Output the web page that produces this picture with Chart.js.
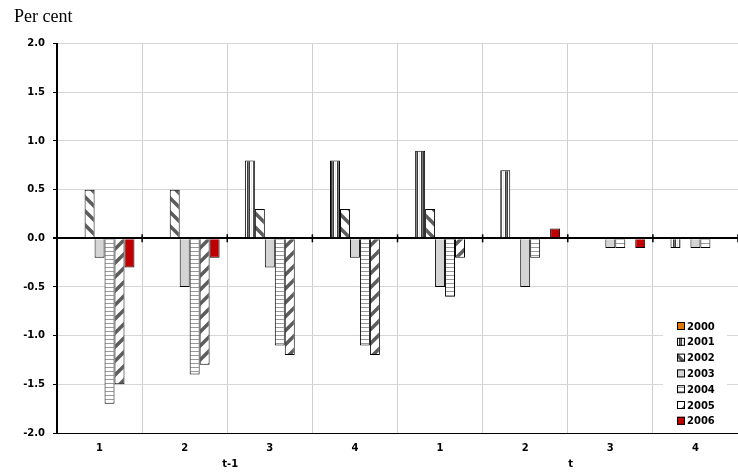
<!DOCTYPE html>
<html>
<head>
<meta charset="utf-8">
<script src="https://cdn.jsdelivr.net/npm/chart.js@4.4.1/dist/chart.umd.min.js"></script>
<style>
    body { margin: 0; background: #fff; }
    #wrap { width: 738px; height: 473px; position: relative; }
</style>
</head>
<body>
<div id="wrap"><canvas id="grafico"></canvas></div>
<script>
// DATA
const quarters = ['1', '2', '3', '4', '1', '2', '3', '4'];
const periods = ['t-1', 't'];
const yTicks = [-2.0, -1.5, -1.0, -0.5, 0.0, 0.5, 1.0, 1.5, 2.0];
const years = ['2000', '2001', '2002', '2003', '2004', '2005', '2006'];

const v2000 = [null, null, null, null, null, null, null, null];
const v2001 = [null, null, 0.8, 0.8, 0.9, 0.7, null, -0.1];
const v2002 = [0.5, 0.5, 0.3, 0.3, 0.3, null, null, null];
const v2003 = [-0.2, -0.5, -0.3, -0.2, -0.5, -0.5, -0.1, -0.1];
const v2004 = [-1.7, -1.4, -1.1, -1.1, -0.6, -0.2, -0.1, -0.1];
const v2005 = [-1.5, -1.3, -1.2, -1.2, -0.2, null, null, null];
const v2006 = [-0.3, -0.2, null, null, null, 0.1, -0.1, null];

// PATTERNS
function tile(w, h, draw) {
    const c = document.createElement('canvas');
    c.width = w; c.height = h;
    const g = c.getContext('2d');
    g.fillStyle = '#fff';
    g.fillRect(0, 0, w, h);
    draw(g, w, h);
    return c.getContext('2d').createPattern(c, 'repeat');
}

function diagonal(dir) {
    const p = 14;
    return tile(p, p, (g) => {
        g.strokeStyle = '#5c5c5c';
        g.lineWidth = 3.5;
        for (let k = -1; k <= 1; k++) {
            g.beginPath();
            if (dir === 'back') {
                g.moveTo(k * p - p, -p); g.lineTo(k * p + 2 * p, 2 * p);
            } else {
                g.moveTo(k * p - p, 2 * p); g.lineTo(k * p + 2 * p, -p);
            }
            g.stroke();
        }
    });
}

const patVertical = tile(6, 4, (g) => {
    const cols = ['#ffffff', '#3a3a3a', '#7a7a7a', '#3a3a3a', '#ffffff', '#e6e6e6'];
    cols.forEach((c, i) => { g.fillStyle = c; g.fillRect(i, 0, 1, 4); });
});
const patHorizontal = tile(4, 4, (g) => {
    g.fillStyle = '#999';
    g.fillRect(0, 3, 4, 1);
});

const fills = ['#e07800', patVertical, diagonal('back'), '#d4d4d4', patHorizontal, diagonal('fwd'), '#c00000'];
const series = [v2000, v2001, v2002, v2003, v2004, v2005, v2006];

// PLUGIN: zero-line ticks, period labels and legend
const extras = {
    id: 'extras',
    afterDatasetsDraw(chart) {
        const ctx = chart.ctx;
        const x = chart.scales.x;
        const y = chart.scales.y;
        const y0 = y.getPixelForValue(0);
        const half = (x.getPixelForValue(1) - x.getPixelForValue(0)) / 2;

        ctx.save();
        ctx.strokeStyle = '#000';
        ctx.lineWidth = 1.5;
        for (let i = 0; i < quarters.length; i++) {
            const bx = x.getPixelForValue(i) + half;
            ctx.beginPath();
            ctx.moveTo(bx, y0 - 4);
            ctx.lineTo(bx, y0 + 4);
            ctx.stroke();
        }

        // period labels under the axis
        ctx.fillStyle = '#000';
        ctx.font = 'bold 10px "DejaVu Sans"';
        ctx.textAlign = 'center';
        ctx.textBaseline = 'middle';
        periods.forEach((p, i) => {
            const bx = x.getPixelForValue(i * 4 + 1) + half;
            ctx.fillText(p, bx + 3, 464);
        });

        // legend
        ctx.fillStyle = '#fff';
        ctx.fillRect(663, 316, 64, 112);
        ctx.textAlign = 'left';
        chart.data.datasets.forEach((ds, i) => {
            const ry = 326 + i * 15.8;
            ctx.fillStyle = ds.backgroundColor;
            ctx.fillRect(677, ry - 4, 8, 8);
            ctx.strokeStyle = '#000';
            ctx.lineWidth = 1;
            ctx.strokeRect(677.5, ry - 3.5, 7, 7);
            ctx.fillStyle = '#000';
            ctx.fillText(ds.label, 687, ry + 1);
        });
        ctx.restore();
    }
};

// CHART
Chart.defaults.font.family = '"DejaVu Sans", sans-serif';
Chart.defaults.color = '#000';

new Chart(document.getElementById('grafico'), {
    type: 'bar',
    data: {
        labels: quarters,
        datasets: years.map((yr, i) => ({
            label: yr,
            data: series[i],
            backgroundColor: fills[i],
            borderColor: '#000',
            borderWidth: 1,
            categoryPercentage: 0.82,
            barPercentage: 1.0
        }))
    },
    options: {
        responsive: true,
        maintainAspectRatio: false,
        animation: false,
        layout: { padding: { left: 14, right: 0, top: 0, bottom: 0 } },
        plugins: {
            legend: { display: false },
            tooltip: { enabled: false },
            title: {
                display: true,
                text: 'Per cent',
                align: 'start',
                color: '#000',
                font: { family: '"Liberation Serif", "Times New Roman", serif', size: 18, weight: 'normal' },
                padding: { top: 6, bottom: 16 }
            }
        },
        scales: {
            x: {
                afterFit(scale) { scale.height = 40; },
                grid: { offset: true, color: '#cfcfcf', drawTicks: false },
                border: { display: true, color: '#000', width: 1 },
                ticks: { font: { size: 10, weight: 'bold' }, padding: 9 }
            },
            y: {
                min: -2,
                max: 2,
                afterFit(scale) { scale.width = 43; },
                afterBuildTicks(scale) { scale.ticks = yTicks.map(v => ({ value: v })); },
                grid: {
                    color: c => c.tick && c.tick.value === 0 ? '#000' : '#d6d6d6',
                    lineWidth: c => c.tick && c.tick.value === 0 ? 2 : 1,
                    tickColor: '#000',
                    tickLength: 4
                },
                border: { display: true, color: '#000', width: 2 },
                ticks: {
                    font: { size: 10, weight: 'bold' },
                    padding: 8,
                    callback: v => v.toFixed(1)
                }
            }
        }
    },
    plugins: [extras]
});
</script>
</body>
</html>
